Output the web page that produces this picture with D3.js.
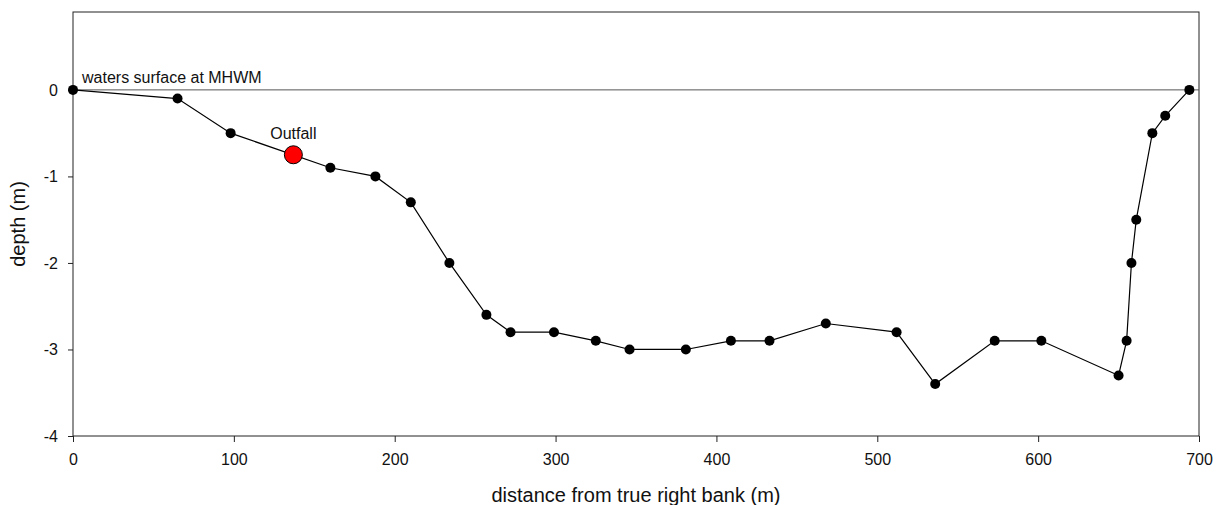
<!DOCTYPE html>
<html>
<head>
<meta charset="utf-8">
<script src="https://cdn.jsdelivr.net/npm/d3@7"></script>
<style>
  body { margin: 0; background: #fff; }
  svg { display: block; font-family: "Liberation Sans", Arial, sans-serif; }
</style>
</head>
<body>
<svg id="chart" width="1219" height="505"></svg>
<script>
// cross-section survey points
const distance = [0, 65, 98, 160, 188, 210, 234, 257, 272, 299, 325, 346, 381, 409, 433, 468, 512, 536, 573, 602, 650, 655, 658, 661, 671, 679, 694];
const depth = [0, -0.1, -0.5, -0.9, -1.0, -1.3, -2.0, -2.6, -2.8, -2.8, -2.9, -3.0, -3.0, -2.9, -2.9, -2.7, -2.8, -3.4, -2.9, -2.9, -3.3, -2.9, -2.0, -1.5, -0.5, -0.3, 0];

// outfall location
const outfallDistance = [137];
const outfallDepth = [-0.75];

const xTicks = [0, 100, 200, 300, 400, 500, 600, 700];
const yTicks = [-4, -3, -2, -1, 0];

const svg = d3.select("#chart");

// plot box (window.top is taken, so keep these in an object)
const box = { left: 73, right: 1199, top: 12, bottom: 436 };

const x = d3.scaleLinear().domain([0, 700]).range([box.left, box.right]);
const y = d3.scaleLinear().domain([-4, 0.9]).range([box.bottom, box.top]);

const points = distance.map((d, i) => ({ x: d, y: depth[i] }));
const outfall = outfallDistance.map((d, i) => ({ x: d, y: outfallDepth[i] }));

// frame round the plot
svg.append("rect")
  .attr("x", box.left)
  .attr("y", box.top)
  .attr("width", box.right - box.left)
  .attr("height", box.bottom - box.top)
  .attr("fill", "none")
  .attr("stroke", "#222")
  .attr("stroke-width", 1);

// water surface line
svg.append("line")
  .attr("x1", x(0))
  .attr("x2", x(700))
  .attr("y1", y(0))
  .attr("y2", y(0))
  .attr("stroke", "#555")
  .attr("stroke-width", 1);

// axes (plain hyphen for negatives, like the original)
const xAxis = svg.append("g")
  .attr("transform", `translate(0,${box.bottom})`)
  .call(d3.axisBottom(x).tickValues(xTicks).tickSize(6).tickPadding(12).tickSizeOuter(0));

const yAxis = svg.append("g")
  .attr("transform", `translate(${box.left},0)`)
  .call(d3.axisLeft(y).tickValues(yTicks).tickFormat(d => String(d)).tickSize(5).tickPadding(10).tickSizeOuter(0));

[xAxis, yAxis].forEach(a => {
  a.select(".domain").remove();
  a.selectAll("line").attr("stroke", "#222");
  a.selectAll("text")
    .attr("fill", "#111")
    .style("font-size", "16px")
    .style("font-family", "'Liberation Sans', Arial, sans-serif");
});

// axis titles
svg.append("text")
  .attr("x", (box.left + box.right) / 2)
  .attr("y", 502)
  .attr("text-anchor", "middle")
  .style("font-size", "20px")
  .attr("fill", "#111")
  .text("distance from true right bank (m)");

svg.append("text")
  .attr("transform", `translate(25,${(box.top + box.bottom) / 2}) rotate(-90)`)
  .attr("text-anchor", "middle")
  .style("font-size", "20px")
  .attr("fill", "#111")
  .text("depth (m)");

// profile line
const line = d3.line().x(d => x(d.x)).y(d => y(d.y));

svg.append("path")
  .datum(points)
  .attr("d", line)
  .attr("fill", "none")
  .attr("stroke", "#000")
  .attr("stroke-width", 1.2);

svg.selectAll(".pt")
  .data(points)
  .enter()
  .append("circle")
  .attr("class", "pt")
  .attr("cx", d => x(d.x))
  .attr("cy", d => y(d.y))
  .attr("r", 5)
  .attr("fill", "#000");

// outfall marker
svg.selectAll(".outfall")
  .data(outfall)
  .enter()
  .append("circle")
  .attr("class", "outfall")
  .attr("cx", d => x(d.x))
  .attr("cy", d => y(d.y))
  .attr("r", 9)
  .attr("fill", "#ff0000")
  .attr("stroke", "#000")
  .attr("stroke-width", 1);

svg.selectAll(".outfall-label")
  .data(outfall)
  .enter()
  .append("text")
  .attr("class", "outfall-label")
  .attr("x", d => x(d.x))
  .attr("y", d => y(d.y) - 16)
  .attr("text-anchor", "middle")
  .style("font-size", "16px")
  .attr("fill", "#111")
  .text("Outfall");

// water surface label
svg.append("text")
  .attr("x", x(0) + 9)
  .attr("y", y(0) - 7)
  .style("font-size", "16px")
  .attr("fill", "#111")
  .text("waters surface at MHWM");
</script>
</body>
</html>
